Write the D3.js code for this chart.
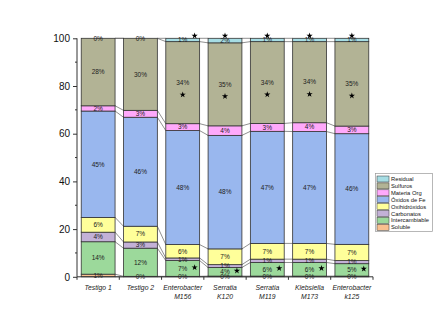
<!DOCTYPE html>
<html>
<head>
<meta charset="utf-8">
<script src="https://cdn.jsdelivr.net/npm/d3@7"></script>
<style>
  body { margin: 0; background: #fff; }
  svg text { font-family: "Liberation Sans", Arial, sans-serif; }
</style>
</head>
<body>
<div id="chart"></div>
<script>
// categories (x) and fractions, bottom to top
const samples = ["Testigo 1", "Testigo 2", "Enterobacter M156", "Serratia K120", "Serratia M119", "Klebsiella M173", "Enterobacter k125"];
const sampleLines = [["Testigo 1"], ["Testigo 2"], ["Enterobacter", "M156"], ["Serratia", "K120"], ["Serratia", "M119"], ["Klebsiella", "M173"], ["Enterobacter", "k125"]];
const fractions = ["Soluble", "Intercambiable", "Carbonatos", "Oxihidróxidos", "Óxidos de Fe", "Materia Org", "Sulfuros", "Residual"];

// percent per fraction, one array per fraction, in sample order
const soluble        = [1.1, 0.2, 0.2, 0.3, 0.3, 0.3, 0.3];
const intercambiable = [13.6, 11.8, 6.6, 3.6, 5.7, 5.7, 5.2];
const carbonatos     = [4.0, 2.6, 1.1, 1.2, 1.4, 1.4, 1.3];
const oxihidroxidos  = [6.2, 6.6, 5.6, 6.6, 6.6, 6.6, 6.8];
const oxidosFe       = [44.6, 45.7, 47.8, 47.6, 47.0, 46.9, 46.4];
const materiaOrg     = [2.2, 2.9, 2.9, 4.0, 3.3, 3.7, 3.2];
const sulfuros       = [28.3, 30.2, 34.4, 34.8, 34.3, 34.0, 35.4];
const residual       = [0.0, 0.0, 1.4, 1.9, 1.4, 1.4, 1.4];

// samples marked with a star (significant) for a fraction
const starred = { "Intercambiable": [2, 3, 4, 5, 6], "Sulfuros": [2, 3, 4, 5, 6], "Residual": [2, 3, 4, 5, 6] };

const yTicks = [0, 20, 40, 60, 80, 100];

const series = [soluble, intercambiable, carbonatos, oxihidroxidos, oxidosFe, materiaOrg, sulfuros, residual];
const colors = ["#f9c08f", "#9cd99b", "#c3b1d7", "#ffff9a", "#99b7ee", "#ffa9fb", "#b2b395", "#a6dde4"];

const width = 434, height = 334;
const svg = d3.select("#chart").append("svg")
  .attr("width", width).attr("height", height);

const x = d3.scaleBand().domain(samples).range([77, 373]).paddingInner(0.2).paddingOuter(0.1);
const y = d3.scaleLinear().domain([0, 100]).range([276.8, 38.3]);

// build stacked table
const table = samples.map((s, i) => {
  const row = { sample: s };
  fractions.forEach((f, j) => row[f] = series[j][i]);
  return row;
});
const stacked = d3.stack().keys(fractions)(table);

// connecting lines between bars
const bw = x.bandwidth();
stacked.forEach(layer => {
  for (let i = 0; i < samples.length - 1; i++) {
    svg.append("line")
      .attr("x1", x(samples[i]) + bw).attr("y1", y(layer[i][1]))
      .attr("x2", x(samples[i + 1])).attr("y2", y(layer[i + 1][1]))
      .attr("stroke", "#444").attr("stroke-width", 0.6);
  }
});
for (let i = 0; i < samples.length - 1; i++) {
  svg.append("line")
    .attr("x1", x(samples[i]) + bw).attr("y1", y(0))
    .attr("x2", x(samples[i + 1])).attr("y2", y(0))
    .attr("stroke", "#444").attr("stroke-width", 0.6);
}

// bars
const layers = svg.selectAll("g.layer").data(stacked).enter().append("g")
  .attr("fill", (d, i) => colors[i]);
layers.selectAll("rect").data(d => d).enter().append("rect")
  .attr("x", d => x(d.data.sample))
  .attr("y", d => y(d[1]))
  .attr("width", bw)
  .attr("height", d => y(d[0]) - y(d[1]))
  .attr("stroke", "#333").attr("stroke-width", 0.8);

// percentage labels
stacked.forEach((layer, j) => {
  layer.forEach((d, i) => {
    const v = series[j][i];
    svg.append("text")
      .attr("x", x(d.data.sample) + bw / 2)
      .attr("y", y((d[0] + d[1]) / 2) + 2.3)
      .attr("text-anchor", "middle")
      .attr("font-size", 6.5)
      .attr("fill", "#222")
      .text(Math.round(v) + "%");
  });
});

// stars
const star = d3.symbol().type(d3.symbolStar).size(12);
stacked.forEach(layer => {
  const idx = starred[layer.key];
  if (!idx) return;
  idx.forEach(i => {
    const d = layer[i];
    let sx, sy;
    if (layer.key === "Intercambiable") {
      sx = x(samples[i]) + bw - 5; sy = y((d[0] + d[1]) / 2) - 1;
    } else if (layer.key === "Sulfuros") {
      sx = x(samples[i]) + bw / 2; sy = y((d[0] + d[1]) / 2) + 12;
    } else {
      sx = i === 2 ? x(samples[i]) + bw - 5 : x(samples[i]) + bw / 2;
      sy = y(100) - 2.5;
    }
    svg.append("path").attr("d", star).attr("transform", `translate(${sx},${sy})`).attr("fill", "#000");
  });
});

// y axis
const yAxis = svg.append("g").attr("transform", "translate(77,0)")
  .call(d3.axisLeft(y).tickValues(yTicks).tickSize(4).tickPadding(3));
yAxis.selectAll("text").attr("font-size", 10).attr("fill", "#111").style("font-family", "Liberation Sans, Arial, sans-serif");
yAxis.selectAll("line, path").attr("stroke", "#333");
yAxis.select(".domain").attr("d", `M0,${y(0)}V${y(100)}`);
[10, 30, 50, 70, 90].forEach(t => {
  svg.append("line").attr("x1", 75).attr("x2", 77).attr("y1", y(t)).attr("y2", y(t)).attr("stroke", "#333");
});

// x axis
svg.append("line").attr("x1", 77).attr("x2", 373).attr("y1", y(0)).attr("y2", y(0)).attr("stroke", "#333");
const step = x.step();
for (let i = 0; i <= samples.length; i++) {
  const tx = i === 0 ? 77 : i === samples.length ? 373 : x(samples[i]) - step * 0.1;
  svg.append("line").attr("x1", tx).attr("x2", tx).attr("y1", y(0)).attr("y2", y(0) + 3).attr("stroke", "#333");
}
sampleLines.forEach((lines, i) => {
  const t = svg.append("text")
    .attr("x", x(samples[i]) + bw / 2)
    .attr("y", 290)
    .attr("text-anchor", "middle")
    .attr("font-size", 6.8)
    .attr("font-style", "italic")
    .attr("fill", "#222");
  lines.forEach((l, k) => t.append("tspan").attr("x", x(samples[i]) + bw / 2).attr("dy", k === 0 ? 0 : 9).text(l));
});

// legend
const legend = svg.append("g");
legend.append("rect").attr("x", 375.5).attr("y", 173.5).attr("width", 57).attr("height", 58)
  .attr("fill", "#fff").attr("stroke", "#999").attr("stroke-width", 0.7);
fractions.slice().reverse().forEach((f, k) => {
  const j = fractions.length - 1 - k;
  const ly = 176 + k * 6.9;
  legend.append("rect").attr("x", 377).attr("y", ly).attr("width", 12).attr("height", 6)
    .attr("fill", colors[j]).attr("stroke", "#333").attr("stroke-width", 0.5);
  legend.append("text").attr("x", 391).attr("y", ly + 5).attr("font-size", 5.8).attr("fill", "#111").text(f);
});
</script>
</body>
</html>
